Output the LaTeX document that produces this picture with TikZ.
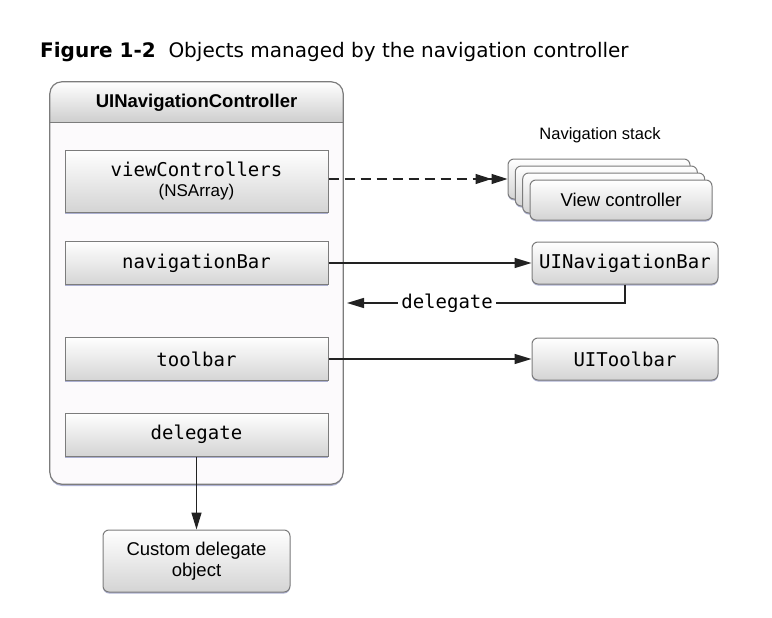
\documentclass[tikz,border=0pt]{standalone}
\usepackage{fontspec}
\setmainfont{Liberation Sans}
\setmonofont{DejaVu Sans Mono}
\newfontfamily\titlefont{DejaVu Sans}
\usepackage{xcolor}
\usetikzlibrary{arrows.meta,positioning,shadows}

\definecolor{boxline}{HTML}{7C7C7C}
\definecolor{boxlow}{HTML}{D4D4D4}
\definecolor{shadowblue}{HTML}{8A90C0}
\definecolor{ncback}{HTML}{FCFAFC}
\definecolor{headlow}{HTML}{CDCDCD}
\definecolor{arrowline}{HTML}{222222}

\newcommand\monotext{\fontsize{19}{21}\selectfont\ttfamily}
\newcommand\sanstext{\fontsize{18.5}{21}\selectfont}

\begin{document}
\begin{tikzpicture}[x=1pt, y=-1pt,
    propbox/.style={rectangle, draw=boxline, line width=1pt, top color=white, bottom color=boxlow,
        minimum width=263, minimum height=43, inner sep=0pt, align=center, font=\monotext,
        drop shadow={shadow xshift=0pt, shadow yshift=-1.5pt, fill=shadowblue, opacity=0.7}},
    objbox/.style={rectangle, rounded corners=6, draw=boxline, line width=1pt, top color=white, bottom color=boxlow,
        inner sep=0pt, align=center, font=\sanstext,
        drop shadow={shadow xshift=0pt, shadow yshift=-1.5pt, fill=shadowblue, opacity=0.7}},
    arr/.style={draw=arrowline, line width=1.4pt, -{Triangle[length=17pt,width=10pt]}},
    dasharr/.style={draw=arrowline, line width=1.4pt, dash pattern=on 10pt off 6pt,
        -{Triangle[length=16pt,width=10pt]Triangle[length=16pt,width=10pt]}}]
    \useasboundingbox (0,0) rectangle (772,618);
    \def\cx{196.5}

    % caption
    \node (title) [anchor=base west, inner sep=0pt, font=\titlefont\fontsize{20}{23}\selectfont] at (40,58)
        {\textbf{Figure 1-2}\ \ Objects managed by the navigation controller};

    % the navigation controller
    \node (nc) [rectangle, rounded corners=12, fill=ncback, minimum width=293, minimum height=402,
        drop shadow={shadow xshift=0pt, shadow yshift=-2pt, fill=shadowblue, opacity=0.7}] at (\cx,283) {};
    \begin{scope}
        \clip [rounded corners=12] (nc.south west) rectangle (nc.north east);
        \fill [top color=white, bottom color=headlow] (nc.north west) rectangle (nc.east |- 0,123);
    \end{scope}
    \draw [boxline, line width=1pt] (nc.west |- 0,123) -- (nc.east |- 0,123);
    \draw [boxline, line width=1.2pt, rounded corners=12] (nc.south west) rectangle (nc.north east);
    \node (nchead) [font=\sanstext\bfseries] at (\cx,103) {UINavigationController};

    \node (vcs) [propbox, minimum height=62] at (\cx,181)
        {viewControllers\\[-1pt]{\fontsize{17}{19}\selectfont\rmfamily (NSArray)}};
    \node (nbar) [propbox] at (\cx,263) {navigationBar};
    \node (tbar) [propbox] at (\cx,359) {toolbar};
    \node (dlg) [propbox] at (\cx,434.5) {delegate};

    % custom delegate
    \node (cdo) [objbox, minimum width=187, minimum height=62] at (\cx,561) {Custom delegate\\object};

    % navigation stack
    \node (stacklbl) [font=\fontsize{16.5}{19}\selectfont] at (600,135) {Navigation stack};
    \node (vcb3) [objbox, minimum width=182, minimum height=40] at (599,179) {};
    \node (vcb2) [objbox, minimum width=182, minimum height=40] at (606.3,186) {};
    \node (vcb1) [objbox, minimum width=182, minimum height=40] at (613.7,193) {};
    \node (vcb0) [objbox, minimum width=182, minimum height=40] at (621,200) {View controller};

    \node (uinb) [objbox, font=\monotext, minimum width=186, minimum height=42] at (625,263) {UINavigationBar};
    \node (uitb) [objbox, font=\monotext, minimum width=186, minimum height=42] at (625,359) {UIToolbar};

    \coordinate (dback) at (347,303);

    \draw [dasharr] (vcs.east |- vcb3.west) -- (vcb3.west);
    \draw [arr] (nbar) -- (uinb);
    \draw [arr] (tbar) -- (uitb);
    \draw [arr] (uinb.south) |- node[pos=0.82, fill=white, inner sep=3pt, font=\monotext] {delegate} (dback);
    \draw [arr] (dlg) -- (cdo);

\end{tikzpicture}
\end{document}
